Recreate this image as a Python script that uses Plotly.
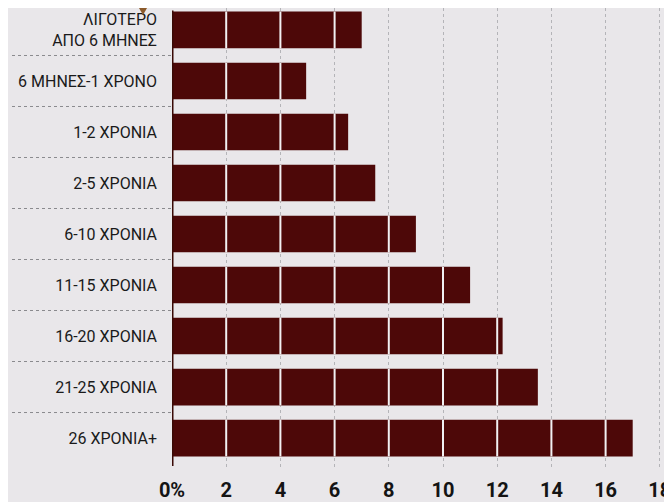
import plotly.graph_objects as go

categories = ["ΛΙΓΟΤΕΡΟ<br>ΑΠΟ 6 ΜΗΝΕΣ", "6 ΜΗΝΕΣ-1 ΧΡΟΝΟ", "1-2 ΧΡΟΝΙΑ", "2-5 ΧΡΟΝΙΑ",
              "6-10 ΧΡΟΝΙΑ", "11-15 ΧΡΟΝΙΑ", "16-20 ΧΡΟΝΙΑ", "21-25 ΧΡΟΝΙΑ", "26 ΧΡΟΝΙΑ+"]
values = [7.0, 4.95, 6.5, 7.5, 9.0, 11.0, 12.2, 13.5, 17.0]
tick_vals = [0, 2, 4, 6, 8, 10, 12, 14, 16, 18]
tick_text = ["0%", "2", "4", "6", "8", "10", "12", "14", "16", "18"]

BG = "#e9e7ea"
BAR = "#4d0808"
BAR_W = 0.72

idx = list(range(len(categories)))
fig = go.Figure(go.Bar(
    x=values, y=idx, orientation="h",
    marker=dict(color=BAR, line=dict(width=0)),
    width=BAR_W,
))

shapes = []
# white gridline segments over bars
for i, v in zip(idx, values):
    for t in tick_vals[1:]:
        if t < v:
            shapes.append(dict(type="line", xref="x", yref="y", x0=t, x1=t,
                               y0=i - BAR_W / 2, y1=i + BAR_W / 2,
                               line=dict(color="#f2f0f2", width=2), layer="above"))
# dotted separators in label area
for i in idx[:-1]:
    shapes.append(dict(type="line", xref="paper", yref="y", x0=-0.32, x1=0,
                       y0=i + 0.5, y1=i + 0.5,
                       line=dict(color="#8a8a8e", width=1, dash="dot"), layer="above"))
# y axis line
shapes.append(dict(type="line", xref="x", yref="y", x0=0, x1=0,
                   y0=-0.38, y1=8.55, line=dict(color="#3a0a06", width=3), layer="above"))
# small decoration at top
shapes.append(dict(type="path", xref="paper", yref="paper",
                   path="M -0.066 1 L -0.05 1 L -0.058 0.985 Z",
                   fillcolor="#8b5a2b", line=dict(width=0), layer="above"))

fig.update_layout(
    width=664, height=494,
    margin=dict(l=164, r=0, t=0, b=32),
    paper_bgcolor=BG, plot_bgcolor=BG,
    showlegend=False,
    shapes=shapes,
    xaxis=dict(range=[0, 18.45], tickvals=tick_vals, ticktext=tick_text,
               showgrid=True, gridcolor="#b4b4b8", griddash="dot", gridwidth=1,
               zeroline=False, showline=False, ticks="", automargin=False,
               ticklabelstandoff=6,
               tickfont=dict(family="Roboto", size=20, color="#141414", weight="bold")),
    yaxis=dict(tickvals=idx, ticktext=categories, range=[8.627, -0.431],
               showgrid=False, zeroline=False, showline=False, ticks="", automargin=False,
               ticklabelstandoff=14,
               tickfont=dict(family="Roboto", size=16, color="#1a1a1a")),
)

fig.write_html("out.html")
